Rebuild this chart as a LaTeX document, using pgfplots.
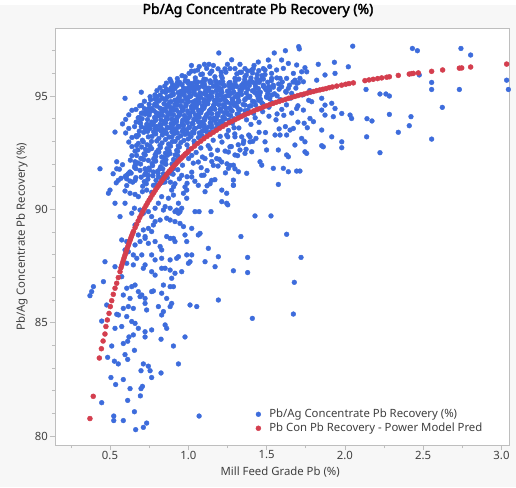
\documentclass[border=0pt]{standalone}
\usepackage{fontspec}
\setmainfont{Noto Sans}[AutoFakeBold=2.2]
\usepackage{pgfplots}
\pgfplotsset{compat=1.18}
\definecolor{jblue}{RGB}{61,108,220}
\definecolor{jred}{RGB}{212,62,78}
\definecolor{framec}{RGB}{190,190,190}
\definecolor{txt}{RGB}{64,64,64}
\definecolor{bgc}{RGB}{247,247,247}
\begin{document}
\begin{tikzpicture}
\fill[bgc] (-55bp,-42bp) rectangle (461bp,440bp);
\begin{axis}[
 at={(0,0)}, anchor=south west,
 scale only axis, width=454bp, height=417bp,
 xmin=0.1488, xmax=3.048, ymin=79.59, ymax=97.99,
 axis background/.style={fill=white},
 axis line style={framec},
 xtick={0.5,1,1.5,2,2.5,3}, xticklabels={0.5,1.0,1.5,2.0,2.5,3.0},
 ytick={80,85,90,95}, yticklabels={80,85,90,95},
 minor xtick={0.25,0.75,1.25,1.75,2.25,2.75},
 minor ytick={81,82,83,84,86,87,88,89,91,92,93,94,96,97},
 tick align=outside, xtick pos=bottom, ytick pos=left,
 major tick length=5bp, minor tick length=3bp,
 every tick/.style={framec, line width=0.6bp},
 ticklabel style={font=\fontsize{11.4}{13}\selectfont, text=txt},
 xticklabel style={yshift=3bp},
 yticklabel style={xshift=1.5bp},
 title={Pb/Ag Concentrate Pb Recovery (\%)},
 title style={at={(axis description cs:0.447,1.0288)}, anchor=center, font=\bfseries\fontsize{14}{16}\selectfont, text=black},
 xlabel={Mill Feed Grade Pb (\%)},
 xlabel style={at={(axis description cs:0.496,-0.064)}, anchor=center, font=\fontsize{11.4}{13}\selectfont, text=txt},
 ylabel={Pb/Ag Concentrate Pb Recovery (\%)},
 ylabel style={at={(axis description cs:-0.0727,0.5)}, anchor=center, font=\fontsize{11.4}{13}\selectfont, text=txt},
 legend style={at={(axis description cs:0.4405,0.088)}, anchor=north west, draw=none, fill=none, inner sep=0pt,
   font=\fontsize{11.4}{13}\selectfont, text=txt, row sep=3bp,
   nodes={inner sep=0pt, text height=8.5bp, text depth=2.5bp}},
 legend cell align=left,
 legend image code/.code={\draw[#1] plot coordinates {(3bp,0bp)}; \path (0bp,0bp) (13.7bp,0bp);},
]
\addplot[only marks, mark=*, mark size=2.4bp, color=jblue, mark options={draw=jblue, fill=jblue}] coordinates {
(0.511,83.97)(0.585,84.08)(0.613,84.18)(0.621,84.37)(0.724,84.37)(0.826,84.27)(0.979,84.37)(0.905,83.97)(0.656,83.78)(0.596,83.59)(0.485,83.47)(0.528,83.30)(0.553,83.18)(0.613,83.38)(0.713,83.18)(0.745,83.08)(0.756,82.88)(0.698,82.88)(0.826,82.78)(0.937,83.18)(0.766,82.58)(0.506,82.58)(0.585,82.49)(0.536,82.27)(0.628,82.09)(0.698,82.09)(0.707,82.19)(0.694,81.77)(0.613,81.57)(0.447,81.47)(0.656,81.07)(0.524,80.88)(0.524,80.68)(0.585,80.68)(0.734,80.57)(0.713,80.38)(0.664,80.28)(1.069,80.88)
(0.490,90.71)(0.500,90.85)(0.596,90.81)(0.628,90.71)(0.660,90.66)(0.707,90.78)(0.734,90.85)(0.766,90.75)(0.894,90.85)(0.969,90.71)(0.990,90.85)(1.107,90.78)(1.214,90.85)
(0.532,90.27)(0.596,90.27)(0.656,90.05)(0.692,89.97)(0.681,90.56)(0.830,90.56)(0.873,90.49)(0.905,90.63)(0.937,90.27)(0.990,90.49)(1.214,90.34)
(0.564,89.68)(0.639,89.83)(0.713,89.83)(0.745,89.90)(0.766,89.68)(0.788,90.05)(0.809,90.27)(0.841,89.97)(0.852,90.12)(0.884,90.05)(0.915,89.90)(0.926,89.97)(0.937,89.83)(0.947,89.90)(0.958,90.05)(1.043,89.90)(1.069,89.90)(1.145,89.90)
(0.788,89.46)(0.820,89.53)(0.862,89.61)(0.884,89.53)(0.915,89.46)(0.777,89.31)(0.745,89.16)(0.713,89.09)(0.660,89.31)(0.681,88.87)(0.724,88.80)(0.766,89.02)(0.947,89.38)(0.969,89.24)(0.979,88.87)(1.022,89.16)(1.064,88.87)(1.075,88.94)
(0.575,88.65)(0.607,88.58)(0.660,88.43)(0.692,88.58)(0.724,88.72)(0.745,88.50)(0.788,88.58)(0.820,88.36)(0.830,88.21)(0.862,88.80)(0.884,88.72)(0.905,88.72)(0.915,88.58)(0.990,88.58)(1.128,88.28)
(0.596,88.21)(0.617,88.13)(0.649,87.99)(0.671,87.84)(0.703,87.99)(0.766,87.99)(0.788,87.77)(0.830,87.84)(0.884,87.77)(0.926,87.84)(0.937,87.91)(0.990,87.99)(1.022,87.99)(1.011,87.69)(1.107,87.69)(1.171,87.47)(1.192,87.91)
(0.468,87.69)(0.532,87.47)(0.607,87.62)(0.649,87.55)(0.724,87.55)(0.713,87.40)(0.766,87.25)(0.788,87.10)(0.830,87.40)(0.852,87.40)(0.884,87.32)(0.915,87.18)(0.894,86.96)(0.958,87.25)(1.001,87.62)
(0.394,86.59)(0.383,86.37)(0.372,86.19)(0.458,86.81)(0.575,87.03)(0.607,86.52)(0.639,86.59)(0.660,86.66)(0.585,86.22)(0.628,86.07)(0.681,86.37)(0.692,86.15)(0.703,86.22)(0.724,86.07)(0.766,86.37)(0.777,86.40)(0.841,86.66)(0.830,86.30)(0.884,86.59)(0.905,86.59)(0.862,86.07)(0.894,85.85)(1.192,86.00)
(0.479,85.78)(0.543,85.37)(0.554,85.34)(0.585,85.63)(0.617,85.71)(0.649,85.63)(0.724,85.85)(0.734,85.56)(0.809,85.71)(0.830,85.34)(0.841,85.49)(0.884,85.71)(1.011,85.78)(1.054,85.71)
(0.447,85.07)(0.532,84.75)(0.575,84.83)(0.607,85.27)(0.639,85.05)(0.660,84.97)(0.681,84.75)(0.766,84.68)(0.852,84.90)(0.862,84.75)(0.649,84.46)(0.724,84.60)
(1.245,90.71)(1.245,90.27)(1.252,90.20)(1.426,89.71)(1.528,89.71)(1.336,88.80)(1.628,88.90)(1.379,87.88)(1.720,87.88)(1.288,87.29)(1.379,87.21)(1.677,86.78)(1.671,85.38)(1.409,85.19)
(2.431,97.10)(2.463,97.00)(2.741,97.10)(2.803,96.81)(2.475,95.93)(2.554,95.60)(2.554,95.29)(2.731,95.29)(3.033,95.70)(3.044,95.29)(2.224,95.09)(2.262,95.09)(2.284,95.00)(2.622,94.50)(2.284,94.19)(2.422,94.09)(2.411,93.69)(2.341,93.40)(2.554,93.10)(2.224,92.50)(2.050,97.20)(2.135,95.29)(2.141,94.00)(2.173,93.90)
(1.549,96.90)(1.620,97.00)(1.705,97.18)(1.709,97.08)
(1.277,96.60)(1.330,96.40)(1.447,96.50)(1.266,96.21)(1.298,96.21)(1.362,96.21)(1.415,96.21)(1.479,96.21)
(1.511,96.59)(1.596,96.59)(1.639,96.44)(1.692,96.37)(1.745,96.25)(1.830,96.40)(1.933,96.49)(2.022,96.29)
(1.234,96.20)(1.405,96.15)(1.490,96.15)(1.532,96.00)(1.564,96.15)(1.607,96.22)(1.671,96.00)(1.724,96.07)(1.756,96.07)
(1.298,95.78)(1.362,95.85)(1.437,95.78)(1.532,95.78)(1.586,95.78)(1.628,95.78)(1.681,95.70)(1.713,95.78)(1.820,95.70)(1.873,95.93)(1.937,96.00)
(1.277,95.48)(1.341,95.48)(1.426,95.56)(1.479,95.48)(1.543,95.48)(1.596,95.41)(1.639,95.34)(1.692,95.56)(1.735,95.63)
(1.330,96.05)(1.370,95.92)(1.410,96.02)(1.450,96.12)(1.490,95.95)(1.360,95.72)(1.400,95.80)(1.440,95.66)(1.480,95.75)(1.530,95.68)(1.380,95.30)(1.450,95.15)(1.490,95.35)(1.520,94.88)(1.550,95.10)(1.470,94.70)(1.430,94.60)(1.580,95.30)(1.600,95.62)
(1.447,94.90)(1.532,95.04)(1.660,95.12)(1.692,94.45)(1.735,94.38)(1.788,94.75)(1.852,94.90)(1.873,94.60)(1.916,94.68)(1.937,94.45)(1.852,94.38)(1.873,94.16)(1.926,94.09)(1.980,94.23)(2.033,94.16)(2.043,94.01)
(1.245,93.28)(1.298,93.20)(1.341,93.20)(1.394,93.20)(1.394,92.98)(1.351,92.91)(1.330,92.62)(1.298,92.40)(1.266,92.76)(1.362,92.47)(1.405,92.54)(1.490,92.98)(1.500,92.62)(1.575,92.62)(1.628,92.40)(1.639,92.32)(1.681,92.84)(1.745,92.54)(1.756,92.47)(1.852,92.81)(1.862,92.76)(1.554,93.28)(1.586,93.28)(1.628,93.28)(1.650,93.50)(1.671,93.57)(1.724,93.13)(1.745,92.98)(1.777,94.01)(1.799,93.87)(1.852,93.50)(1.916,93.20)(1.980,92.98)(1.980,92.72)(2.139,93.20)
(1.560,93.95)(1.610,94.15)(1.660,94.25)(1.700,93.85)(1.620,93.65)(1.580,93.55)(1.740,93.80)(1.760,93.60)
(1.288,91.95)(1.320,91.66)(1.373,91.59)(1.458,92.10)(1.469,91.95)(1.543,91.81)(1.607,91.81)(1.639,91.66)(1.692,91.69)(1.713,91.69)(1.575,91.10)(1.256,91.81)(1.288,91.29)(1.288,91.07)
(0.532,93.41)(0.436,91.79)(0.543,91.79)(0.681,93.27)(0.724,93.56)(0.745,93.71)(0.766,93.85)(0.787,93.56)(0.670,92.82)(0.702,92.75)(0.734,92.60)(0.766,92.68)(0.798,92.53)(0.670,92.38)(0.702,92.24)(0.745,92.16)(0.787,92.31)(0.830,92.31)(0.851,92.02)(0.819,91.79)(0.883,92.46)(0.660,91.94)(0.692,91.72)(0.724,91.79)(0.745,91.50)(0.777,91.65)(0.809,91.43)(0.841,91.57)(0.894,91.72)(0.617,91.57)(0.606,91.35)(0.660,91.28)(0.724,91.21)(0.777,91.06)(0.819,91.13)(0.851,91.21)(0.915,91.13)(0.553,91.28)
(1.022,92.38)(1.064,92.09)(1.107,92.24)(1.139,92.68)(1.160,91.94)(1.181,92.24)(1.213,92.09)(1.256,92.53)(1.266,91.94)(1.298,91.79)(0.958,91.50)(1.022,91.43)(1.085,91.50)(1.149,91.28)(1.139,91.13)(1.064,91.06)(1.288,91.06)(0.979,90.99)
(1.195,96.90)(1.103,96.40)(1.132,96.40)(1.117,96.22)(1.139,96.00)(1.005,96.00)(0.883,95.74)(0.915,95.33)(0.666,94.41)(0.702,94.59)(0.596,94.90)(0.756,94.97)(0.788,94.87)(0.834,94.90)(0.894,95.26)(0.915,94.82)(0.937,94.82)(0.734,94.31)(0.756,94.31)(0.766,94.45)(1.043,95.63)(1.000,95.56)(1.011,95.34)(1.064,95.34)(1.096,95.41)(1.128,95.34)(0.543,92.10)(0.607,91.51)(0.670,93.20)(0.681,92.91)(0.713,92.98)(0.677,92.62)(0.660,92.10)
(1.020,96.10)(1.060,96.15)(1.080,95.95)(1.150,96.10)(1.170,95.85)(1.190,96.20)(1.210,95.90)(1.240,96.05)(1.100,95.75)(1.140,95.60)(1.200,95.60)(1.230,95.45)(0.960,95.50)(0.980,95.85)(0.930,95.60)(0.950,95.20)(0.860,95.30)(0.900,95.50)
(1.040,96.10)(1.090,95.97)(1.210,96.05)(1.310,95.98)(1.380,96.10)(1.440,95.95)(0.960,95.90)
(1.070,96.30)(1.160,96.35)(1.250,96.40)(1.340,96.05)(1.420,96.35)(1.470,95.90)(1.520,96.30)(1.020,96.35)
(0.930,95.77)(0.997,95.65)(1.045,95.80)(1.089,95.62)(1.112,95.73)(1.174,95.68)(1.217,95.79)(1.266,95.60)(1.323,95.75)(1.392,95.64)(1.460,95.71)(1.507,95.61)(1.565,95.80)(1.669,95.62)
(0.890,95.64)(0.935,95.56)(0.980,95.66)(1.020,95.55)(1.060,95.62)(1.100,95.58)(1.140,95.67)(1.180,95.54)(1.220,95.63)(1.260,95.57)(1.300,95.66)(1.350,95.55)(1.410,95.62)
(0.860,95.57)(0.907,95.45)(0.945,95.60)(1.029,95.42)(1.052,95.53)(1.104,95.48)(1.147,95.59)(1.186,95.40)(1.213,95.55)(1.262,95.44)(1.300,95.51)(1.341,95.41)(1.375,95.57)(1.429,95.45)(1.452,95.60)(1.514,95.42)(1.577,95.53)(1.646,95.48)(1.703,95.59)
(0.850,95.44)(0.890,95.36)(0.930,95.46)(0.970,95.35)(1.010,95.42)(1.050,95.38)(1.090,95.47)(1.125,95.34)(1.160,95.43)(1.195,95.37)(1.230,95.46)(1.270,95.35)(1.310,95.42)(1.350,95.38)(1.390,95.47)(1.430,95.34)(1.480,95.43)
(0.820,95.37)(0.877,95.25)(0.915,95.40)(0.969,95.22)(0.992,95.33)(1.034,95.28)(1.067,95.39)(1.116,95.20)(1.133,95.35)(1.182,95.24)(1.210,95.31)(1.257,95.21)(1.285,95.37)(1.339,95.25)(1.362,95.40)(1.414,95.22)(1.447,95.33)(1.496,95.28)(1.543,95.39)(1.622,95.20)(1.687,95.35)(1.775,95.24)
(0.800,95.24)(0.855,95.16)(0.895,95.26)(0.935,95.15)(0.970,95.22)(1.005,95.18)(1.040,95.27)(1.075,95.14)(1.110,95.23)(1.145,95.17)(1.180,95.26)(1.215,95.15)(1.250,95.22)(1.290,95.18)(1.330,95.27)(1.370,95.14)(1.410,95.23)(1.460,95.17)(1.520,95.26)
(0.700,95.17)(0.787,95.05)(0.835,95.20)(0.889,95.02)(0.902,95.13)(0.954,95.08)(0.977,95.19)(1.016,95.00)(1.033,95.15)(1.072,95.04)(1.100,95.11)(1.137,95.01)(1.155,95.17)(1.199,95.05)(1.212,95.20)(1.254,95.02)(1.277,95.13)(1.316,95.08)(1.333,95.19)(1.382,95.00)(1.427,95.15)(1.455,95.04)(1.507,95.11)(1.567,95.01)(1.625,95.17)(1.729,95.05)
(0.820,95.04)(0.865,94.96)(0.905,95.06)(0.940,94.95)(0.975,95.02)(1.010,94.98)(1.045,95.07)(1.080,94.94)(1.115,95.03)(1.150,94.97)(1.185,95.06)(1.220,94.95)(1.260,95.02)(1.300,94.98)(1.340,95.07)(1.390,94.94)(1.440,95.03)(1.500,94.97)
(0.800,94.97)(0.857,94.85)(0.885,95.00)(0.929,94.82)(0.942,94.93)(0.984,94.88)(1.007,94.99)(1.046,94.80)(1.063,94.95)(1.102,94.84)(1.130,94.91)(1.167,94.81)(1.185,94.97)(1.229,94.85)(1.242,95.00)(1.284,94.82)(1.317,94.93)(1.366,94.88)(1.393,94.99)(1.452,94.80)(1.500,94.95)(1.587,94.84)(1.655,94.91)(1.769,94.81)
(0.760,94.84)(0.805,94.76)(0.850,94.86)(0.890,94.75)(0.925,94.82)(0.960,94.78)(0.995,94.87)(1.030,94.74)(1.065,94.83)(1.100,94.77)(1.135,94.86)(1.170,94.75)(1.205,94.82)(1.240,94.78)(1.280,94.87)(1.320,94.74)(1.360,94.83)(1.410,94.77)(1.460,94.86)
(0.720,94.77)(0.787,94.65)(0.815,94.80)(0.869,94.62)(0.882,94.73)(0.924,94.68)(0.947,94.79)(0.986,94.60)(1.003,94.75)(1.042,94.64)(1.070,94.71)(1.107,94.61)(1.125,94.77)(1.169,94.65)(1.182,94.80)(1.224,94.62)(1.247,94.73)(1.296,94.68)(1.323,94.79)(1.362,94.60)(1.422,94.75)(1.477,94.64)(1.535,94.71)(1.627,94.61)
(0.750,94.64)(0.800,94.56)(0.845,94.66)(0.880,94.55)(0.915,94.62)(0.950,94.58)(0.985,94.67)(1.020,94.54)(1.055,94.63)(1.090,94.57)(1.125,94.66)(1.160,94.55)(1.195,94.62)(1.230,94.58)(1.270,94.67)(1.310,94.54)(1.350,94.63)(1.400,94.57)
(0.690,94.57)(0.747,94.45)(0.785,94.60)(0.839,94.42)(0.862,94.53)(0.904,94.48)(0.927,94.59)(0.966,94.40)(0.983,94.55)(1.022,94.44)(1.050,94.51)(1.087,94.41)(1.105,94.57)(1.149,94.45)(1.162,94.60)(1.204,94.42)(1.227,94.53)(1.266,94.48)(1.293,94.59)(1.332,94.40)(1.390,94.55)(1.457,94.44)(1.515,94.51)(1.597,94.41)(1.700,94.57)
(0.720,94.44)(0.780,94.36)(0.820,94.46)(0.855,94.35)(0.890,94.42)(0.925,94.38)(0.960,94.47)(0.995,94.34)(1.030,94.43)(1.065,94.37)(1.100,94.46)(1.135,94.35)(1.170,94.42)(1.205,94.38)(1.240,94.47)(1.280,94.34)(1.320,94.43)(1.380,94.37)
(0.640,94.37)(0.707,94.25)(0.755,94.40)(0.809,94.22)(0.832,94.33)(0.884,94.28)(0.907,94.39)(0.946,94.20)(0.963,94.35)(1.002,94.24)(1.030,94.31)(1.067,94.21)(1.085,94.37)(1.129,94.25)(1.142,94.40)(1.184,94.22)(1.207,94.33)(1.246,94.28)(1.273,94.39)(1.312,94.20)(1.362,94.35)(1.417,94.24)(1.475,94.31)(1.567,94.21)
(0.700,94.24)(0.750,94.16)(0.795,94.26)(0.835,94.15)(0.870,94.22)(0.905,94.18)(0.940,94.27)(0.975,94.14)(1.010,94.23)(1.045,94.17)(1.080,94.26)(1.115,94.15)(1.150,94.22)(1.190,94.18)(1.230,94.27)(1.270,94.14)(1.320,94.23)
(0.620,94.17)(0.687,94.05)(0.725,94.20)(0.789,94.02)(0.812,94.13)(0.864,94.08)(0.887,94.19)(0.926,94.00)(0.943,94.15)(0.982,94.04)(1.010,94.11)(1.047,94.01)(1.065,94.17)(1.109,94.05)(1.122,94.20)(1.164,94.02)(1.187,94.13)(1.226,94.08)(1.253,94.19)(1.292,94.00)(1.352,94.15)(1.427,94.04)(1.515,94.11)
(0.680,94.04)(0.740,93.96)(0.785,94.06)(0.825,93.95)(0.860,94.02)(0.895,93.98)(0.930,94.07)(0.965,93.94)(1.000,94.03)(1.035,93.97)(1.070,94.06)(1.105,93.95)(1.140,94.02)(1.180,93.98)(1.220,94.07)(1.260,93.94)
(0.600,93.97)(0.667,93.85)(0.705,94.00)(0.769,93.82)(0.792,93.93)(0.844,93.88)(0.867,93.99)(0.906,93.80)(0.923,93.95)(0.962,93.84)(0.990,93.91)(1.027,93.81)(1.045,93.97)(1.089,93.85)(1.102,94.00)(1.144,93.82)(1.167,93.93)(1.206,93.88)(1.233,93.99)(1.282,93.80)(1.372,93.95)(1.452,93.84)
(0.690,93.84)(0.735,93.76)(0.780,93.86)(0.820,93.75)(0.855,93.82)(0.890,93.78)(0.925,93.87)(0.960,93.74)(0.995,93.83)(1.030,93.77)(1.065,93.86)(1.100,93.75)(1.140,93.82)(1.180,93.78)(1.210,93.87)
(0.580,93.77)(0.657,93.65)(0.695,93.80)(0.749,93.62)(0.772,93.73)(0.824,93.68)(0.847,93.79)(0.886,93.60)(0.903,93.75)(0.942,93.64)(0.970,93.71)(1.007,93.61)(1.025,93.77)(1.069,93.65)(1.082,93.80)(1.124,93.62)(1.147,93.73)(1.196,93.68)(1.223,93.79)(1.292,93.60)(1.400,93.75)
(0.700,93.64)(0.755,93.56)(0.795,93.66)(0.830,93.55)(0.865,93.62)(0.900,93.58)(0.935,93.67)(0.970,93.54)(1.005,93.63)(1.040,93.57)(1.075,93.66)(1.110,93.55)(1.150,93.62)(1.180,93.58)
(0.620,93.57)(0.687,93.45)(0.725,93.60)(0.779,93.42)(0.802,93.53)(0.844,93.48)(0.867,93.59)(0.906,93.40)(0.923,93.55)(0.962,93.44)(0.990,93.51)(1.027,93.41)(1.045,93.57)(1.089,93.45)(1.102,93.60)(1.144,93.42)(1.177,93.53)(1.256,93.48)(1.323,93.59)(1.452,93.40)
(0.740,93.44)(0.785,93.36)(0.825,93.46)(0.860,93.35)(0.895,93.42)(0.930,93.38)(0.965,93.47)(1.000,93.34)(1.035,93.43)(1.070,93.37)(1.110,93.46)(1.140,93.35)
(0.600,93.37)(0.667,93.25)(0.715,93.40)(0.769,93.22)(0.792,93.33)(0.834,93.28)(0.857,93.39)(0.896,93.20)(0.913,93.35)(0.952,93.24)(0.980,93.31)(1.017,93.21)(1.035,93.37)(1.089,93.25)(1.122,93.40)(1.204,93.22)(1.297,93.33)(1.386,93.28)(1.493,93.39)
(0.640,93.17)(0.707,93.05)(0.745,93.20)(0.799,93.02)(0.812,93.13)(0.854,93.08)(0.877,93.19)(0.916,93.00)(0.933,93.15)(0.972,93.04)(1.000,93.11)(1.037,93.01)(1.065,93.17)(1.159,93.05)(1.252,93.20)(1.354,93.02)(1.432,93.13)
(0.620,92.97)(0.737,92.85)(0.765,93.00)(0.819,92.82)(0.832,92.93)(0.874,92.88)(0.897,92.99)(0.936,92.80)(0.953,92.95)(0.992,92.84)(1.040,92.91)(1.127,92.81)(1.215,92.97)(1.319,92.85)(1.412,93.00)
(0.640,92.77)(0.727,92.65)(0.755,92.80)(0.809,92.62)(0.822,92.73)(0.864,92.68)(0.887,92.79)(0.926,92.60)(0.943,92.75)(1.002,92.64)(1.080,92.71)(1.187,92.61)(1.275,92.77)(1.369,92.65)
(0.660,92.57)(0.717,92.45)(0.745,92.60)(0.789,92.42)(0.812,92.53)(0.854,92.48)(0.877,92.59)(0.916,92.40)(0.933,92.55)(0.982,92.44)(1.050,92.51)(1.147,92.41)(1.235,92.57)
(0.640,92.37)(0.697,92.25)(0.725,92.40)(0.779,92.22)(0.792,92.33)(0.844,92.28)(0.867,92.39)(0.906,92.20)(0.933,92.35)(1.002,92.24)(1.090,92.31)(1.197,92.21)(1.315,92.37)
(0.630,92.17)(0.677,92.05)(0.715,92.20)(0.769,92.02)(0.792,92.13)(0.834,92.08)(0.857,92.19)(0.896,92.00)(0.923,92.15)(1.032,92.04)(1.150,92.11)(1.247,92.01)
(0.580,91.97)(0.657,91.85)(0.695,92.00)(0.749,91.82)(0.772,91.93)(0.824,91.88)(0.857,91.99)(0.906,91.80)(0.963,91.95)(1.082,91.84)(1.190,91.91)
(0.560,91.77)(0.627,91.65)(0.665,91.80)(0.729,91.62)(0.752,91.73)(0.804,91.68)(0.837,91.79)(0.886,91.60)(0.933,91.75)(1.022,91.64)(1.120,91.71)(1.237,91.61)
(0.520,91.57)(0.597,91.45)(0.635,91.60)(0.699,91.42)(0.722,91.53)(0.774,91.48)(0.807,91.59)(0.866,91.40)(0.903,91.55)(0.992,91.44)(1.100,91.51)
(0.570,91.37)(0.627,91.25)(0.665,91.40)(0.719,91.22)(0.742,91.33)(0.794,91.28)(0.827,91.39)(0.886,91.20)(0.943,91.35)(1.042,91.24)(1.170,91.31)
(0.540,91.17)(0.607,91.05)(0.645,91.20)(0.709,91.02)(0.732,91.13)(0.794,91.08)(0.837,91.19)(0.906,91.00)(0.992,91.15)(1.120,91.04)
};
\addlegendentry{Pb/Ag Concentrate Pb Recovery (\%)}
\addplot[only marks, mark=*, mark size=2.5bp, color=jred, mark options={draw=jred, fill=jred}] coordinates {
(0.372,80.77)(0.393,81.75)(0.432,83.44)(0.445,83.85)(0.456,84.19)(0.468,84.50)(0.474,84.83)(0.483,85.12)(0.494,85.41)(0.502,85.71)(0.511,85.97)(0.521,86.25)(0.532,86.52)(0.543,86.74)(0.553,86.99)(0.564,87.25)
(0.570,87.42)(0.575,87.53)(0.580,87.64)(0.585,87.75)(0.590,87.86)(0.595,87.97)(0.600,88.07)(0.605,88.18)(0.610,88.28)(0.615,88.38)(0.620,88.48)(0.625,88.58)(0.630,88.67)(0.635,88.77)(0.640,88.86)(0.645,88.95)
(0.65,89.03)(0.66,89.19)(0.67,89.34)(0.68,89.49)(0.69,89.64)(0.70,89.77)(0.71,89.91)(0.72,90.04)(0.73,90.17)(0.74,90.29)(0.75,90.41)(0.76,90.52)(0.77,90.64)(0.78,90.74)(0.79,90.85)(0.80,90.95)(0.81,91.05)(0.82,91.15)(0.83,91.25)(0.84,91.34)(0.85,91.43)(0.86,91.52)(0.87,91.61)(0.88,91.69)(0.89,91.77)(0.90,91.85)(0.91,91.93)(0.92,92.00)(0.93,92.08)(0.94,92.15)(0.95,92.22)(0.96,92.29)(0.97,92.36)(0.98,92.43)(0.99,92.49)(1.00,92.55)
(1.02,92.68)(1.04,92.79)(1.06,92.91)(1.08,93.01)(1.10,93.12)(1.12,93.22)(1.14,93.31)(1.16,93.40)(1.18,93.49)(1.20,93.58)(1.22,93.66)(1.24,93.74)(1.26,93.82)(1.28,93.89)(1.30,93.96)(1.32,94.03)(1.34,94.10)(1.36,94.17)(1.38,94.23)(1.40,94.29)(1.42,94.35)(1.44,94.41)(1.46,94.46)(1.48,94.52)(1.50,94.57)(1.52,94.62)(1.54,94.67)(1.56,94.72)(1.58,94.76)(1.60,94.81)(1.62,94.85)(1.64,94.90)(1.66,94.94)(1.68,94.98)(1.70,95.02)(1.72,95.06)(1.74,95.09)(1.76,95.13)(1.78,95.17)(1.80,95.20)(1.82,95.24)(1.84,95.27)(1.86,95.30)(1.88,95.33)(1.90,95.37)(1.92,95.40)
(1.948,95.44)(1.979,95.48)(2.005,95.52)(2.026,95.55)(2.054,95.58)(2.128,95.68)(2.154,95.71)(2.181,95.74)(2.209,95.77)(2.235,95.80)(2.267,95.83)(2.284,95.85)(2.341,95.91)(2.411,95.97)(2.427,95.99)(2.437,96.00)(2.469,96.02)(2.554,96.09)(2.624,96.15)(2.731,96.23)(2.746,96.24)(2.803,96.28)(3.033,96.41)
};
\addlegendentry{Pb Con Pb Recovery - Power Model Pred}
\end{axis}
\end{tikzpicture}
\end{document}
